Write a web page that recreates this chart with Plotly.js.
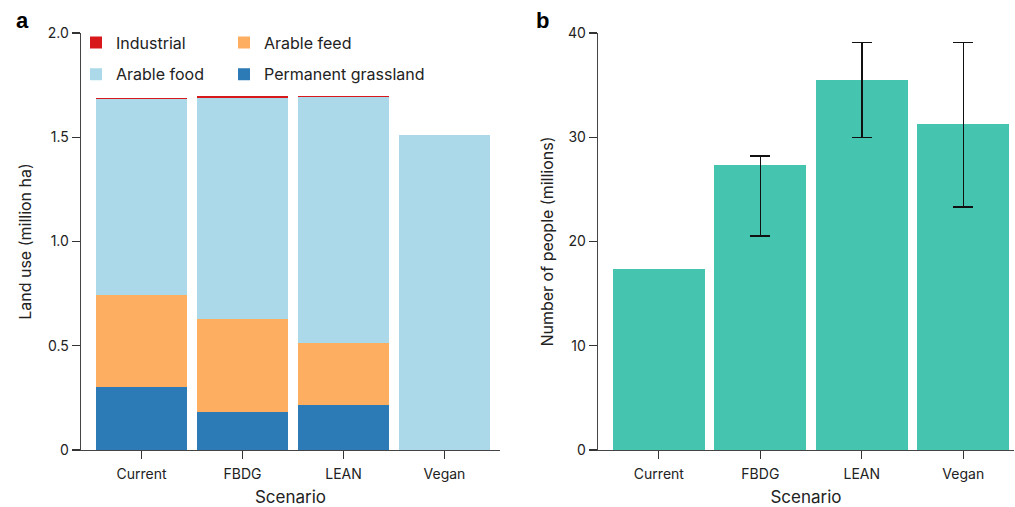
<!DOCTYPE html>
<html>
<head>
<meta charset="utf-8">
<script src="https://cdn.plot.ly/plotly-3.0.1.min.js"></script>
<style>
html,body{margin:0;padding:0;background:#fff;}
#chart{width:1015px;height:507px;}
</style>
</head>
<body>
<div id="chart"></div>
<script>
// ---- Data ----
const scenarios = ["Current", "FBDG", "LEAN", "Vegan"];

// Panel a: land use (million ha), stacked segments
const permanentGrassland = [0.303, 0.180, 0.217, 0];
const arableFeed = [0.442, 0.450, 0.294, 0];
const arableFood = [0.939, 1.059, 1.183, 1.512];
const industrial = [0.006, 0.010, 0.005, 0];

// Panel b: number of people (millions)
const people = [17.4, 27.35, 35.5, 31.3];
const peopleHigh = [NaN, 28.2, 39.1, 39.1];
const peopleLow = [NaN, 20.55, 29.97, 23.33];

const landTicks = [0, 0.5, 1.0, 1.5, 2.0];
const landTickText = ["0", "0.5", "1.0", "1.5", "2.0"];
const peopleTicks = [0, 10, 20, 30, 40];

// ---- Styles ----
const FONT = "Inter, 'Open Sans', 'DejaVu Sans', sans-serif";
const colors = {
  grass: "#2c7bb6",
  feed: "#fdae61",
  food: "#abd9e9",
  ind: "#d7191c",
  people: "#45c4b0"
};

const plus = people.map((v, i) => peopleHigh[i] - v);
const minus = people.map((v, i) => v - peopleLow[i]);

const data = [
  {type: "bar", x: scenarios, y: permanentGrassland, name: "Permanent grassland", legend: "legend2", legendgroup: "g4",
   marker: {color: colors.grass, line: {width: 0}}, legendrank: 2, xaxis: "x", yaxis: "y", hoverinfo: "none"},
  {type: "bar", x: scenarios, y: arableFeed, name: "Arable feed", legend: "legend2", legendgroup: "g2",
   marker: {color: colors.feed, line: {width: 0}}, legendrank: 1, xaxis: "x", yaxis: "y", hoverinfo: "none"},
  {type: "bar", x: scenarios, y: arableFood, name: "Arable food", legend: "legend", legendgroup: "g3",
   marker: {color: colors.food, line: {width: 0}}, legendrank: 2, xaxis: "x", yaxis: "y", hoverinfo: "none"},
  {type: "bar", x: scenarios, y: industrial, name: "Industrial", legend: "legend", legendgroup: "g1",
   marker: {color: colors.ind, line: {width: 0}}, legendrank: 1, xaxis: "x", yaxis: "y", hoverinfo: "none"},
  {type: "bar", x: scenarios, y: people, name: "People", showlegend: false,
   marker: {color: colors.people, line: {width: 0}}, xaxis: "x2", yaxis: "y2", hoverinfo: "none",
   error_y: {type: "data", symmetric: false, array: plus, arrayminus: minus,
             color: "#111", thickness: 1.5, width: 10}}
];

const axisCommon = {
  showline: true, linecolor: "#444", linewidth: 1.3,
  ticks: "outside", ticklen: 8, tickwidth: 1.2, tickcolor: "#333",
  showgrid: false, zeroline: false,
  tickfont: {family: FONT, size: 14, color: "#222"},
  fixedrange: true
};

const W = 1015;
const PH = 417; // plot area height
const legendCommon = {
  orientation: "v", xanchor: "left", yanchor: "top",
  font: {family: FONT, size: 16, color: "#222"}, tracegroupgap: 8,
  bgcolor: "rgba(0,0,0,0)", traceorder: "grouped", y: (450 - 25.5) / PH
};

const layout = {
  width: 1015, height: 507,
  margin: {l: 0, r: 0, t: 33, b: 57},
  paper_bgcolor: "#fff", plot_bgcolor: "#fff",
  barmode: "stack", bargap: 0.095,
  font: {family: FONT, color: "#222"},
  showlegend: true,
  legend: Object.assign({}, legendCommon, {x: 76 / W}),
  legend2: Object.assign({}, legendCommon, {x: 224 / W}),
  xaxis: Object.assign({}, axisCommon, {
    domain: [81 / W, 500 / W], type: "category", range: [-0.6, 3.55], ticklabelstandoff: 3,
    title: {text: "Scenario", font: {family: FONT, size: 17, color: "#222"}, standoff: 15},
    anchor: "y"
  }),
  yaxis: Object.assign({}, axisCommon, {
    domain: [0, 1], range: [0, 2], tickvals: landTicks, ticktext: landTickText,
    title: {text: "Land use (million ha)", font: {family: FONT, size: 16, color: "#222"}, standoff: 12},
    anchor: "x"
  }),
  xaxis2: Object.assign({}, axisCommon, {
    domain: [598 / W, 1014 / W], type: "category", range: [-0.6, 3.5], ticklabelstandoff: 3,
    title: {text: "Scenario", font: {family: FONT, size: 17, color: "#222"}, standoff: 15},
    anchor: "y2"
  }),
  yaxis2: Object.assign({}, axisCommon, {
    domain: [0, 1], range: [0, 40], tickvals: peopleTicks,
    title: {text: "Number of people (millions)", font: {family: FONT, size: 16, color: "#222"}, standoff: 10},
    anchor: "x2"
  }),
  annotations: [
    {text: "<b>a</b>", xref: "paper", yref: "paper", x: 14 / W, y: (450 - 21) / PH, xanchor: "left", yanchor: "middle",
     showarrow: false, font: {family: "'Liberation Sans', Arial, sans-serif", size: 22, color: "#000"}},
    {text: "<b>b</b>", xref: "paper", yref: "paper", x: 534 / W, y: (450 - 21) / PH, xanchor: "left", yanchor: "middle",
     showarrow: false, font: {family: "'Liberation Sans', Arial, sans-serif", size: 22, color: "#000"}}
  ]
};

Plotly.newPlot("chart", data, layout, {displayModeBar: false, staticPlot: true});
</script>
</body>
</html>
